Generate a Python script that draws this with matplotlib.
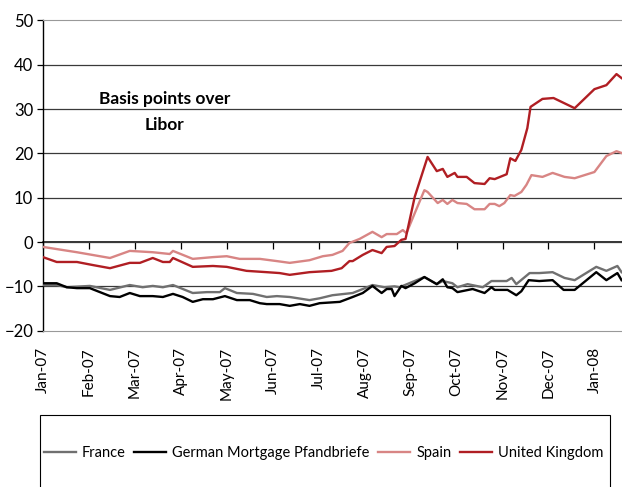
import matplotlib
matplotlib.use("Agg")
import matplotlib.pyplot as plt
from matplotlib.patches import Rectangle

# x positions are in months since Jan-07 (0 = Jan-07, 12 = Jan-08)
month_labels = ["Jan-07", "Feb-07", "Mar-07", "Apr-07", "May-07", "Jun-07", "Jul-07",
                "Aug-07", "Sep-07", "Oct-07", "Nov-07", "Dec-07", "Jan-08"]

france_x = [0.00, 0.30, 0.52, 1.02, 1.46, 1.89, 2.17, 2.39, 2.61, 2.83, 3.26, 3.57, 3.85,
            3.96, 4.22, 4.57, 4.87, 5.09, 5.37, 5.80, 6.02, 6.30, 6.74, 6.96, 7.17, 7.43,
            7.65, 7.76, 8.04, 8.30, 8.57, 8.70, 8.91, 9.02, 9.24, 9.57, 9.76, 10.09, 10.20,
            10.30, 10.59, 10.80, 11.09, 11.35, 11.57, 12.04, 12.26, 12.50, 12.59]
france_y = [-9.7, -9.7, -10.2, -9.9, -10.8, -9.7, -10.2, -9.9, -10.2, -9.7, -11.5, -11.3, -11.3,
            -10.4, -11.5, -11.7, -12.4, -12.2, -12.4, -13.1, -12.7, -12.0, -11.5, -10.6, -9.7, -10.2,
            -10.0, -10.2, -9.0, -7.9, -9.5, -8.8, -9.3, -10.2, -9.5, -10.2, -8.8, -8.8, -8.1,
            -9.5, -7.0, -7.0, -6.8, -8.1, -8.6, -5.6, -6.5, -5.4, -6.8]

german_x = [0.00, 0.30, 0.52, 0.74, 1.02, 1.24, 1.46, 1.67, 1.89, 2.11, 2.39, 2.61, 2.83,
            3.04, 3.26, 3.48, 3.70, 3.96, 4.22, 4.50, 4.72, 4.87, 5.15, 5.37, 5.59, 5.80,
            6.02, 6.46, 6.74, 6.96, 7.17, 7.37, 7.48, 7.59, 7.65, 7.80, 7.89, 8.09, 8.30,
            8.57, 8.70, 8.80, 8.91, 9.02, 9.35, 9.61, 9.76, 9.83, 10.11, 10.30, 10.41, 10.57,
            10.80, 11.09, 11.33, 11.57, 12.04, 12.26, 12.50, 12.59]
german_y = [-9.3, -9.3, -10.2, -10.4, -10.4, -11.3, -12.2, -12.4, -11.5, -12.2, -12.2, -12.4, -11.7,
            -12.4, -13.5, -12.9, -12.9, -12.2, -13.1, -13.1, -13.8, -14.0, -14.0, -14.4, -14.0, -14.4,
            -13.8, -13.5, -12.4, -11.5, -9.9, -11.5, -10.6, -10.6, -12.2, -9.9, -10.4, -9.3, -7.9,
            -9.5, -8.4, -10.2, -10.4, -11.3, -10.6, -11.5, -10.2, -10.8, -10.8, -12.0, -11.1, -8.6,
            -8.8, -8.6, -10.8, -10.8, -6.8, -8.6, -7.0, -8.6]

spain_x = [0.00, 0.74, 1.46, 1.89, 2.39, 2.76, 2.83, 3.26, 3.70, 4.00, 4.28, 4.72, 5.09,
           5.37, 5.80, 6.09, 6.30, 6.52, 6.67, 6.89, 7.17, 7.37, 7.48, 7.70, 7.83, 7.91,
           8.09, 8.30, 8.37, 8.59, 8.70, 8.80, 8.91, 9.02, 9.22, 9.39, 9.61, 9.72, 9.83,
           9.93, 10.04, 10.17, 10.26, 10.41, 10.52, 10.63, 10.87, 11.09, 11.35, 11.57, 12.00,
           12.26, 12.48, 12.59]
spain_y = [-1.1, -2.3, -3.6, -2.0, -2.3, -2.7, -2.0, -3.8, -3.4, -3.2, -3.8, -3.8, -4.3,
           -4.7, -4.1, -3.2, -2.9, -2.0, -0.2, 0.7, 2.3, 1.1, 1.8, 1.8, 2.7, 2.0,
           6.5, 11.7, 11.3, 8.8, 9.5, 8.6, 9.5, 8.8, 8.6, 7.4, 7.4, 8.6, 8.6,
           8.1, 8.8, 10.6, 10.4, 11.3, 12.9, 15.1, 14.7, 15.6, 14.7, 14.4, 15.8,
           19.4, 20.5, 20.1]

uk_x = [0.00, 0.30, 0.74, 1.09, 1.46, 1.89, 2.11, 2.39, 2.61, 2.76, 2.83, 3.26, 3.70,
        4.00, 4.43, 4.87, 5.15, 5.37, 5.80, 6.28, 6.50, 6.67, 6.74, 6.96, 7.17, 7.37,
        7.48, 7.65, 7.80, 7.89, 8.09, 8.37, 8.57, 8.70, 8.80, 8.96, 9.02, 9.22, 9.39,
        9.61, 9.72, 9.83, 10.09, 10.17, 10.28, 10.41, 10.54, 10.61, 10.87, 11.11, 11.57,
        12.00, 12.26, 12.48, 12.59]
uk_y = [-3.4, -4.5, -4.5, -5.2, -5.9, -4.7, -4.7, -3.6, -4.5, -4.5, -3.6, -5.6, -5.4,
        -5.6, -6.5, -6.8, -7.0, -7.4, -6.8, -6.5, -5.9, -4.3, -4.3, -2.9, -1.8, -2.5,
        -1.1, -0.9, 0.5, 0.7, 10.2, 19.2, 16.0, 16.5, 14.7, 15.6, 14.7, 14.7, 13.3,
        13.1, 14.4, 14.2, 15.3, 18.9, 18.3, 20.8, 25.7, 30.5, 32.3, 32.5, 30.2,
        34.5, 35.4, 37.9, 37.0]

plt.rcParams['font.family'] = ['Lato', 'DejaVu Sans']

fig = plt.figure(figsize=(6.22, 4.87), dpi=100)
ax = fig.add_axes([0.069, 0.321, 0.931, 0.637])

# grid lines every 10
for v in range(-10, 50, 10):
    ax.axhline(v, color="#3a3a3a", lw=0.9, zorder=1)

ax.plot(france_x, france_y, color="#707070", lw=1.7, label="France", zorder=3)
ax.plot(german_x, german_y, color="black", lw=1.7, label="German Mortgage Pfandbriefe", zorder=3)
ax.plot(spain_x, spain_y, color="#d88584", lw=1.7, label="Spain", zorder=3)
ax.plot(uk_x, uk_y, color="#b01e23", lw=1.7, label="United Kingdom", zorder=3)

ax.set_xlim(0, 12.6)
ax.set_ylim(-20, 50)
ax.set_yticks(range(-20, 51, 10))
ax.tick_params(axis="y", length=4, width=0.9, labelsize=12, pad=3)

ax.set_xticks(range(13))
ax.set_xticklabels(month_labels, rotation=90, fontsize=11)
ax.tick_params(axis="x", length=0, pad=12)

ax.spines["right"].set_visible(False)
ax.spines["top"].set_color("#999999")
ax.spines["bottom"].set_color("#999999")
ax.spines["left"].set_linewidth(1.0)

# zero line acting as the category axis, with its tick marks
zero = ax.secondary_xaxis(2 / 7)
zero.set_xticks(range(13))
zero.tick_params(axis="x", direction="out", length=5, width=0.9, labelbottom=False, labeltop=False)
zero.spines["bottom"].set_linewidth(1.1)

ax.text(2.65, 29.3, "Basis points over\nLibor", ha="center", va="center",
        fontsize=12.5, fontweight="bold", linespacing=1.75)

# legend box
fig.patches.append(Rectangle((40 / 622, -0.05), 570 / 622, 1 - 415 / 487 + 0.05,
                             transform=fig.transFigure, fill=False, edgecolor="black", lw=0.8))
fig.legend(loc="center", bbox_to_anchor=(0.52, 1 - 453 / 487), ncol=4, frameon=False,
           fontsize=10.5, handlelength=2.2, handletextpad=0.4, columnspacing=0.6)

fig.savefig("out.png", dpi=100)
